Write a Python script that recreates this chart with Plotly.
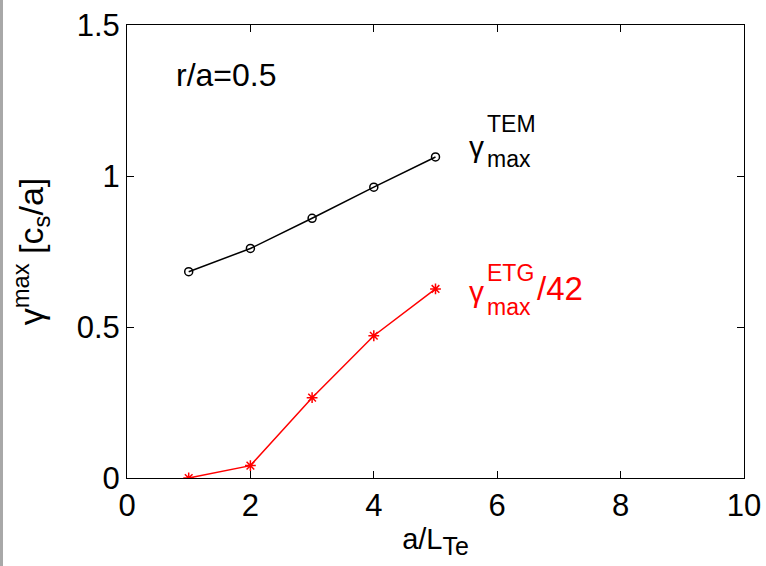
import plotly.graph_objects as go

# data
a_LTe = [1, 2, 3, 4, 5]
gamma_TEM = [0.683, 0.760, 0.860, 0.963, 1.063]
gamma_ETG_42 = [0.0, 0.041, 0.266, 0.471, 0.626]
x_ticks = [0, 2, 4, 6, 8, 10]
y_ticks = [0, 0.5, 1, 1.5]
y_ticklabels = ["0", "0.5", "1", "1.5"]

W, H = 766, 566
L, R, T, B = 127, 22, 25, 88
PW, PH = W - L - R, H - T - B

def px(x):
    return (x - L) / PW

def py(y):
    return (H - B - y) / PH

FONT = "Liberation Sans, Arial, sans-serif"

fig = go.Figure()
fig.add_trace(go.Scatter(
    x=a_LTe, y=gamma_TEM, mode="lines+markers",
    line=dict(color="black", width=1.5),
    marker=dict(symbol="circle-open", size=8, color="black", line=dict(width=1.5)),
    showlegend=False))
fig.add_trace(go.Scatter(
    x=a_LTe, y=gamma_ETG_42, mode="lines+markers",
    line=dict(color="red", width=1.5),
    marker=dict(symbol="asterisk-open", size=9, color="red", line=dict(width=1.5, color="red")),
    showlegend=False))

ann = []
def add(text, x, y, size, color="black", xanchor="left", yanchor="middle"):
    ann.append(dict(text=text, x=px(x), y=py(y), xref="paper", yref="paper",
                    showarrow=False, xanchor=xanchor, yanchor=yanchor,
                    font=dict(family=FONT, size=size, color=color)))

add("r/a=0.5", 174, 75, 32)
add("γ", 467, 146, 30)
add("TEM", 485, 124, 23)
add("max", 485, 159, 23)
add("γ", 467, 291, 30, "red")
add("ETG", 485, 273, 23, "red")
add("max", 485, 307, 23, "red")
add("/42", 535, 288, 33, "red")
fig.update_layout(annotations=ann)

fig.add_shape(type="rect", xref="paper", yref="paper",
              x0=px(0), x1=px(3), y0=py(H), y1=py(0),
              fillcolor="#a8a8a8", line=dict(width=0), layer="above")

fig.update_layout(
    width=W, height=H,
    margin=dict(l=L, r=R, t=T, b=B, autoexpand=False),
    paper_bgcolor="white", plot_bgcolor="white",
    font=dict(family=FONT, color="black"),
    xaxis=dict(range=[0, 10], tickvals=x_ticks, ticktext=[str(v) for v in x_ticks],
               ticks="inside", ticklen=7, tickcolor="black", tickwidth=1,
               showline=True, linecolor="black", linewidth=1, mirror="ticks",
               showgrid=False, zeroline=False,
               tickfont=dict(size=31, family=FONT),
               title=dict(text="a/L<sub><span style=\"font-size:25px\">Te</span></sub>",
                          font=dict(size=29, family=FONT), standoff=6),
               automargin=False),
    yaxis=dict(range=[0, 1.5], tickvals=y_ticks, ticktext=y_ticklabels,
               ticks="inside", ticklen=7, tickcolor="black", tickwidth=1,
               showline=True, linecolor="black", linewidth=1, mirror="ticks",
               showgrid=False, zeroline=False,
               tickfont=dict(size=31, family=FONT),
               title=dict(text="γ<sup>max</sup> [c<sub>s</sub>/a]", font=dict(size=34, family=FONT), standoff=22),
               automargin=False),
)

fig.write_html("out.html")
